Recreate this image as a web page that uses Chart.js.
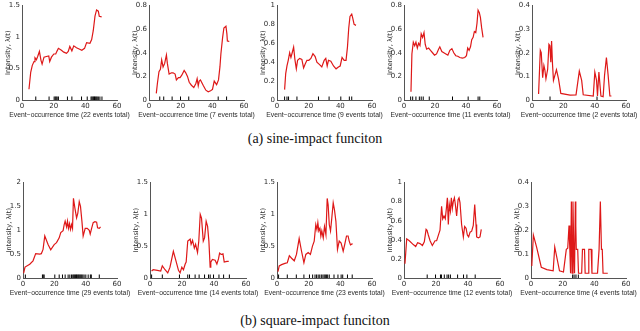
<!DOCTYPE html>
<html><head><meta charset="utf-8">
<script src="https://cdn.jsdelivr.net/npm/chart.js@4"></script>
<style>
body{margin:0;width:640px;height:331px;background:#fff;position:relative;overflow:hidden}
canvas{position:absolute}
.cap{position:absolute;left:0;width:630px;text-align:center;font-family:"Liberation Serif","DejaVu Serif",serif;font-size:14px;color:#111;white-space:nowrap}
.xt{position:absolute;width:160px;text-align:center;font-family:"Liberation Sans",Arial,sans-serif;font-size:6.8px;line-height:10px;color:#2a2a2a;white-space:nowrap}
</style></head>
<body>
<div class="cap" style="top:131px">(a) sine-impact funciton</div>
<div class="cap" style="top:313px">(b) square-impact funciton</div>
<script>
// ---------- (a) sine-impact ----------
const a1Time = [4.4,5.5,6.5,7.6,8.2,9.1,9.9,11,12,12.7,13.9,15.4,16.9,17.5,18.6,20.1,21.3,22.2,23,24.9,26.4,28.1,29.2,30.2,31.5,32.7,34.4,36.1,37.8,39.5,40.8,42.9,44,45,46.1,47.1,48.2,48.8,50.3];
const a1Intensity = [0.17,0.44,0.55,0.61,0.67,0.64,0.69,0.77,0.63,0.57,0.68,0.69,0.70,0.61,0.68,0.73,0.73,0.78,0.82,0.79,0.76,0.74,0.77,0.85,0.78,0.86,0.83,0.81,0.79,0.82,0.91,0.90,0.96,1.10,1.33,1.43,1.41,1.33,1.32];
const a1Events = [8.7,17.1,20.3,21.0,21.6,22.2,23.0,28.7,31.5,37.6,41.2,43.6,44.2,44.8,45.3,45.8,46.3,46.9,47.5,48.2,49.2,50.5];

const a2Time = [4.6,5.3,6.3,7.2,8.0,8.9,9.9,11,11.6,12.7,14.2,15.2,16.5,17.3,18.6,19.6,20.7,22.2,23.2,24.3,25.4,26.8,28.3,29.6,30.4,31.1,31.7,32.5,34.2,35.9,37.4,38.9,40.1,41.2,42.7,43.9,44.8,45.4,46.5,47.3,48.6,49.2,49.5,50.7];
const a2Intensity = [0.056,0.14,0.24,0.26,0.34,0.28,0.31,0.38,0.31,0.22,0.23,0.23,0.22,0.17,0.19,0.19,0.21,0.25,0.23,0.20,0.15,0.125,0.105,0.14,0.18,0.12,0.16,0.17,0.125,0.083,0.07,0.078,0.09,0.16,0.13,0.17,0.28,0.39,0.53,0.61,0.625,0.56,0.50,0.495];
const a2Events = [6.8,9.3,14.6,19.9,25.1,43.7,49.0];

const a3Time = [4.8,5.5,6.3,7.1,8.0,8.8,9.6,10.5,11.3,12.2,13,14.3,15.7,16.8,17.8,18.9,20.1,21.4,22.7,24.1,25.2,26.9,28.3,29.8,30.8,31.7,32.5,34,35.7,37.3,38.8,39.9,41.1,42.4,43.6,44.5,45.3,46.1,47.2,47.8,48.7,49.9];
const a3Intensity = [0.11,0.28,0.36,0.42,0.50,0.45,0.50,0.56,0.43,0.33,0.42,0.44,0.43,0.34,0.38,0.42,0.42,0.44,0.49,0.46,0.40,0.375,0.35,0.42,0.44,0.36,0.42,0.41,0.36,0.33,0.35,0.36,0.45,0.42,0.42,0.56,0.76,0.885,0.91,0.87,0.80,0.79];
const a3Events = [4.8,6.3,7.3,12.6,26.2,32.9,40.3,45.7,47.2];

const a4Time = [4.5,5.1,6,6.9,7.7,8.6,9.4,10.3,11.1,12,12.9,13.7,14.6,15.9,17.1,18.4,19.7,21,22.3,23.1,24.4,25.7,27,28.3,29.6,30.9,32.1,33.4,34.7,36,37.7,39.2,40.3,41.1,42,42.9,43.7,44.6,45.4,46.3,47.1,47.8,48.6,49.3,50.1,51];
const a4Intensity = [0.07,0.39,0.49,0.46,0.49,0.44,0.48,0.46,0.56,0.53,0.57,0.47,0.43,0.44,0.42,0.40,0.38,0.39,0.43,0.45,0.41,0.40,0.39,0.38,0.42,0.435,0.40,0.375,0.37,0.36,0.355,0.36,0.375,0.44,0.42,0.45,0.51,0.53,0.58,0.57,0.65,0.76,0.74,0.70,0.61,0.53];
const a4Events = [4.3,5.6,7.7,9.9,11.1,12.4,16.3,31.3,41.4,47.8,48.9];

const a5Time = [4.2,5.3,5.9,6.8,7.6,8.2,8.9,10,10.8,11.4,12,12.5,13.1,13.7,14.6,15.6,16.9,18.4,24.3,28.1,30.2,31.7,32.7,39.1,40.1,41.2,41.8,42.7,44,45.4,46.3,47.5,48.6,49.7,50.7];
const a5Intensity = [0.025,0.21,0.20,0.094,0.146,0.128,0.09,0.13,0.236,0.23,0.16,0.25,0.15,0.083,0.104,0.128,0.09,0.028,0.021,0.022,0.122,0.083,0.022,0.017,0.118,0.083,0.017,0.118,0.017,0.014,0.104,0.18,0.104,0.017,0.017];
const a5Events = [11.5,41.5];

// ---------- (b) square-impact ----------
const b1Time = [0.4,1.3,4.3,6.4,8.1,10.7,11.7,12.8,13.9,16,17.7,19.9,21.4,23.1,24.1,25.6,26.3,26.9,27.8,28.4,29,29.7,30.3,31,31.6,32.2,33.1,34.2,35,35.9,36.7,37.6,38.4,39.7,41,42.3,42.9,43.8,44.8,45.9,47,47.6,48.7,49.5];
const b1Intensity = [0.10,0.23,0.29,0.36,0.51,0.50,0.51,0.60,0.88,0.70,0.59,0.70,0.74,0.84,0.95,0.99,1.12,1.19,1.07,1.19,1.04,1.14,1.02,1.12,1.04,1.67,1.47,1.26,1.36,1.60,1.50,1.19,0.88,1.04,1.04,1.0,0.92,1.04,1.16,1.18,1.17,1.05,1.04,1.07];
const b1Events = [1.5,12.4,12.9,13.5,20.3,23.1,25.2,26.9,28.8,29.9,31.0,31.8,32.4,33.0,33.6,34.1,34.6,35.2,35.7,36.3,36.9,37.5,38.2,39.0,40.1,41.6,43.0,43.6,48.7];

const b2Time = [1,2,4.6,6.7,7.7,9.4,11.1,12.5,14.6,16.1,17.8,18.8,19.9,20.9,22,22.6,23.6,25.1,25.7,26.6,27.7,28.5,29.7,30.5,31.4,32.2,33.3,34.1,35.1,36,36.8,37.6,38,39,40.7,41.8,42.8,43.5,44.5,45.6,46.4,48.1,49.2];
const b2Intensity = [0.11,0.13,0.12,0.11,0.19,0.13,0.08,0.17,0.42,0.28,0.12,0.08,0.17,0.13,0.22,0.25,0.58,0.61,0.53,0.59,0.47,0.53,0.40,0.58,1.0,0.94,0.58,0.63,0.89,0.81,0.58,0.17,0.25,0.29,0.28,0.22,0.30,0.39,0.37,0.38,0.25,0.26,0.26];
const b2Events = [1,7.7,18.4,23.6,24.7,28.2,30.7,34.1,36.6,37.6,39.7,43.1,46,49.6];

const b3Time = [0.6,1.4,2.9,5,6.5,7.8,9.2,10.9,12.3,14,15.5,17,18.2,19.7,21.1,22.4,23.5,24.5,25.2,25.8,26.4,27.1,27.7,28.3,29.2,30,30.9,31.7,32.3,33,33.8,34.6,35.5,36.3,37.2,38.2,39.3,40.5,41.8,42.8,43.9,44.9,45.6,46.4,47.7];
const b3Intensity = [0.10,0.19,0.21,0.23,0.24,0.35,0.31,0.27,0.37,0.62,0.42,0.24,0.37,0.40,0.37,0.50,0.58,0.84,0.76,0.87,0.74,0.78,0.66,0.74,0.63,0.81,0.68,1.25,1.15,0.84,0.74,0.94,1.18,1.07,0.89,0.45,0.58,0.55,0.42,0.53,0.66,0.66,0.58,0.52,0.54];
const b3Events = [1,6.5,12.2,17.0,20.5,22.5,24.0,25.0,26.0,27.0,28.0,29.0,29.8,30.5,31.2,32.0,33.0,36.0,38.5,40.5,41.5,44.5,47.5];

const b4Time = [0.6,1.7,3.3,5.8,7.3,8.5,10,11.5,12.7,13.8,14.4,15.2,16.3,17.7,19.4,20.4,21.7,22.5,23.5,24.2,25,25.8,26.5,27.1,27.7,28.3,29,29.6,30.2,30.8,31.5,32.1,32.9,33.8,34.4,35,36,37.1,37.9,38.8,39.6,40.4,41.3,42.3,43.3,44.2,45,45.4,46.5,47.5,48.3];
const b4Intensity = [0.15,0.41,0.39,0.35,0.33,0.37,0.36,0.34,0.38,0.51,0.50,0.45,0.39,0.34,0.39,0.39,0.46,0.50,0.75,0.62,0.65,0.62,0.73,0.84,0.56,0.77,0.70,0.84,0.73,0.80,0.84,0.77,0.65,0.82,0.84,0.79,0.56,0.43,0.54,0.52,0.45,0.43,0.48,0.49,0.55,0.77,0.56,0.43,0.42,0.43,0.51];
const b4Events = [14.5,19.7,22.8,23.4,25.2,26.9,27.9,29.0,33.5,37.2,39.3,44.5];

const b5Time = [0.5,1.5,3.5,6.5,10,14,15,18,20.5,22.3,23.2,24,24.5,25,25.5,26,26.5,27,27.5,28,28.3,28.6,29.5,30,32,32.5,33.8,34.2,36,36.5,38,38.5,42,43,43.8,44.5,45,45.5,48.5];
const b5Intensity = [0.05,0.18,0.13,0.045,0.035,0.03,0.13,0.03,0.025,0.12,0.125,0.22,0.125,0.02,0.32,0.02,0.32,0.125,0.02,0.32,0.22,0.12,0.12,0.02,0.02,0.12,0.12,0.02,0.02,0.12,0.12,0.02,0.02,0.12,0.32,0.12,0.12,0.02,0.02];
const b5Events = [26.3,27.2,28.4,29.9];

const xTicks = [0,20,40,60];
const RED = 'rgb(222,24,24)';
const AXC = '#555';
const TXT = '#2a2a2a';
const SANS = '"DejaVu Sans", "Liberation Sans", sans-serif';

function fmt(v){ return String(+(+v).toFixed(2)); }

function panel(p){
  const c = document.createElement('canvas');
  const W = 24 + p.w + 22, H = 4 + p.h + 12;
  c.width = W; c.height = H;
  c.style.left = (p.axisX - 24) + 'px';
  c.style.top = (p.top - 4) + 'px';
  document.body.appendChild(c);
  const t = document.createElement('div');
  t.className = 'xt';
  t.textContent = 'Event\u2212occurrence time (' + p.n + ' events total)';
  t.style.left = (p.axisX + p.w / 2 - 80) + 'px';
  t.style.top = (p.top + p.h + 10) + 'px';
  document.body.appendChild(t);
  new Chart(c, {
    type: 'scatter',
    data: { datasets: [
      { data: p.t.map((t,i)=>({x:t,y:p.y[i]})), showLine:true, borderColor:RED, borderWidth:1.2, pointRadius:0, tension:0, clip:0 },
      { data: p.ev.map(t=>({x:t,y:0})), showLine:false, pointStyle:'line', pointRotation:90, pointRadius:3.5, pointHoverRadius:3.5, pointBorderColor:'#000', pointBorderWidth:1, clip:0 }
    ]},
    options: {
      responsive:false, animation:false, devicePixelRatio:1, events:[],
      layout:{padding:{top:4,right:22,left:0,bottom:0}},
      plugins:{legend:{display:false}, tooltip:{enabled:false}},
      scales:{
        x:{type:'linear', min:0, max:60,
          afterBuildTicks(s){ s.ticks = xTicks.map(v=>({value:v})); },
          ticks:{font:{family:SANS,size:7,lineHeight:1}, color:TXT, padding:3, maxRotation:0, autoSkip:false, callback:fmt},
          grid:{display:false, drawTicks:false},
          border:{display:true, color:AXC, width:1},
          title:{display:false},
          afterFit(s){ s.height = 12; }
        },
        y:{type:'linear', min:0, max:p.ymax,
          ticks:{stepSize:p.step, font:{family:SANS,size:7,lineHeight:1}, color:TXT, padding:2, callback:fmt},
          grid:{display:false, drawTicks:false},
          border:{display:true, color:AXC, width:1},
          title:{display:true, text:'Intensity, \u03bb(t)', font:{family:SANS,size:6.6,lineHeight:1.2}, color:TXT, padding:{top:6,bottom:0}},
          afterFit(s){ s.width = 24; }
        }
      }
    }
  });
}

const TOP_A = 4, H_A = 96, TOP_B = 181, H_B = 97;
panel({axisX:22, w:95, top:TOP_A, h:H_A, ymax:1.5, step:0.5, t:a1Time, y:a1Intensity, ev:a1Events, n:22});
panel({axisX:149, w:95, top:TOP_A, h:H_A, ymax:0.8, step:0.2, t:a2Time, y:a2Intensity, ev:a2Events, n:7});
panel({axisX:277, w:95, top:TOP_A, h:H_A, ymax:1, step:0.2, t:a3Time, y:a3Intensity, ev:a3Events, n:9});
panel({axisX:404, w:93, top:TOP_A, h:H_A, ymax:0.8, step:0.2, t:a4Time, y:a4Intensity, ev:a4Events, n:11});
panel({axisX:532, w:94, top:TOP_A, h:H_A, ymax:0.4, step:0.1, t:a5Time, y:a5Intensity, ev:a5Events, n:2});

panel({axisX:23, w:94, top:TOP_B, h:H_B, ymax:2, step:0.5, t:b1Time, y:b1Intensity, ev:b1Events, n:29});
panel({axisX:150, w:96, top:TOP_B, h:H_B, ymax:1.5, step:0.5, t:b2Time, y:b2Intensity, ev:b2Events, n:14});
panel({axisX:277, w:95, top:TOP_B, h:H_B, ymax:1.5, step:0.5, t:b3Time, y:b3Intensity, ev:b3Events, n:23});
panel({axisX:404, w:96, top:TOP_B, h:H_B, ymax:1, step:0.2, t:b4Time, y:b4Intensity, ev:b4Events, n:12});
panel({axisX:531, w:95, top:TOP_B, h:H_B, ymax:0.4, step:0.1, t:b5Time, y:b5Intensity, ev:b5Events, n:4});
</script>
</body></html>
